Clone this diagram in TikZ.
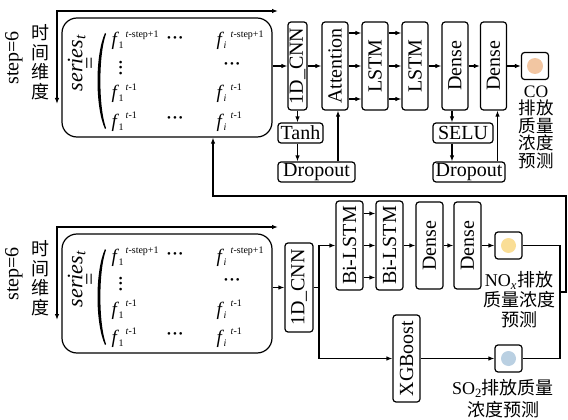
\documentclass[tikz,border=0pt]{standalone}
\usepackage{fontspec}
\setmainfont{Liberation Serif}
\newfontfamily\cjk{Noto Sans CJK SC}
\usepackage{graphicx}
\usetikzlibrary{arrows.meta, positioning}
\definecolor{coorange}{RGB}{242,198,162}
\definecolor{noxyellow}{RGB}{250,222,150}
\definecolor{sotwoblue}{RGB}{186,208,226}
\newcommand{\lbl}{\fontsize{20}{22}\selectfont}
\newcommand{\supfont}{\fontsize{10}{10}\selectfont}
\newcommand{\fel}[2]{\textit{f}\rlap{\kern-0.5pt\raisebox{-3pt}{\supfont #1}}\kern6.5pt\raisebox{8.5pt}{\supfont #2}}
\newcommand{\threedots}{•\kern2pt•\kern2pt•}

\begin{document}
\begin{tikzpicture}[x=1pt, y=-1pt, line width=1.2pt,
    layer/.style={draw, rounded corners=3pt, minimum width=26pt, minimum height=88pt, inner sep=0pt, font=\lbl},
    smallbox/.style={draw, rounded corners=3pt, minimum height=20pt, inner sep=0pt, font=\lbl},
    outbox/.style={draw, rounded corners=3pt, minimum width=27pt, minimum height=27pt, inner sep=0pt},
    serbox/.style={draw, rounded corners=15pt, minimum width=210pt, minimum height=119pt},
    mel/.style={anchor=base west, inner sep=0pt, font=\fontsize{19}{20}\selectfont},
    dotn/.style={inner sep=0pt, font=\fontsize{11}{11}\selectfont},
    captext/.style={align=center, inner sep=0pt, anchor=north},
    arr/.style={-{Latex[length=6pt,width=4.5pt]}},
    arrtwo/.style={{Latex[length=6pt,width=4.5pt]}-{Latex[length=6pt,width=4.5pt]}}]
    \useasboundingbox (0,0) rectangle (568,420);

    % input series, top and bottom
    \foreach \n/\y in {1/0, 2/216} {
        \node[serbox] (ser\n) at (167,77.5+\y) {};
        \coordinate (dn\n) at (57,104+\y);
        \coordinate (rg\n) at (278,11+\y);
        \draw[arrtwo] (dn\n) |- (rg\n);
        \node[rotate=90, font=\lbl] (stp\n) at (14,58+\y) {step=6};
        \node[align=center, font=\cjk\fontsize{18}{19.5}\selectfont] (tdim\n) at (40,62+\y) {时\\间\\维\\度};
        \node[rotate=90, align=center, font=\fontsize{22}{14}\selectfont] (st\n) at (82,63+\y) {\textit{series}\textsubscript{\textit{t}}\\=};
        \fill (105,33+\y) .. controls (95,55+\y) and (95,107+\y) .. (105,129+\y)
            -- (106,128+\y) .. controls (98.5,107+\y) and (98.5,55+\y) .. (106,34+\y) -- cycle;
        \node[mel] (ma\n) at (111,46+\y) {\fel{1}{\textit{t}-step+1}};
        \node[dotn] (mb\n) at (175,39+\y) {\threedots};
        \node[mel] (mc\n) at (216,46+\y) {\fel{\textit{i}}{\textit{t}-step+1}};
        \node[dotn, rotate=90] (md\n) at (122,68+\y) {\threedots};
        \node[dotn] (me\n) at (232,65+\y) {\threedots};
        \node[mel] (mf\n) at (111,99+\y) {\fel{1}{\textit{t}-1}};
        \node[mel] (mg\n) at (216,99+\y) {\fel{\textit{i}}{\textit{t}-1}};
        \node[mel] (mh\n) at (111,127+\y) {\fel{1}{\textit{t}-1}};
        \node[dotn] (mi\n) at (175,119+\y) {\threedots};
        \node[mel] (mj\n) at (216,127+\y) {\fel{\textit{i}}{\textit{t}-1}};
    }

    % CO branch
    \node[layer, minimum width=19pt] (cnn1) at (297.5,66) {\rotatebox{90}{1D\_CNN}};
    \node[layer] (att) at (335,66) {\rotatebox{90}{Attention}};
    \node[layer] (lstm1) at (375,66) {\rotatebox{90}{LSTM}};
    \node[layer] (lstm2) at (415,66) {\rotatebox{90}{LSTM}};
    \node[layer] (den1) at (455,66) {\rotatebox{90}{Dense}};
    \node[layer] (den2) at (493.5,66) {\rotatebox{90}{Dense}};
    \node[outbox] (co) at (535,66) {};
    \fill[coorange] (co) circle (8pt);
    \node[captext, font=\cjk\fontsize{17.5}{17.5}\selectfont] (cocap) at (536,85) {{\rmfamily CO}\\排放\\质量\\浓度\\预测};
    \node[smallbox, minimum width=45pt] (tanh) at (300.5,133) {Tanh};
    \node[smallbox, minimum width=77pt] (drop1) at (316.5,172) {Dropout};
    \node[smallbox, minimum width=60pt] (selu) at (463,133) {SELU};
    \node[smallbox, minimum width=72pt] (drop2) at (469,172) {Dropout};

    \draw[arr] (ser1.east |- cnn1.west) -- (cnn1.west);
    \draw[arr] (cnn1) -- (att);
    \foreach \dy in {-33,0,33} {
        \draw[arr] ([yshift=\dy pt]att.east) -- ([yshift=\dy pt]lstm1.west);
        \draw[arr] ([yshift=\dy pt]lstm1.east) -- ([yshift=\dy pt]lstm2.west);
    }
    \draw[arr] (lstm2) -- (den1);
    \draw[arr] (den1) -- (den2);
    \draw[arr] (den2) -- (co);
    \draw[arr] (cnn1.south) -- (cnn1.south |- tanh.north);
    \draw[arr] (tanh.south -| cnn1) -- (drop1.north -| cnn1);
    \draw[arr] ([xshift=3pt]drop1.north -| att) -- ([xshift=3pt]att.south);
    \draw[arr] ([xshift=-3pt]den1.south) -- ([xshift=-3pt]den1.south |- selu.north);
    \draw[arr] ([xshift=-3pt]selu.south -| den1) -- ([xshift=-3pt]drop2.north -| den1);
    \draw[arr] ([xshift=4pt]drop2.north -| den2) -- ([xshift=4pt]den2.south);

    % NOx and SO2 branch
    \node[layer, minimum width=28pt, minimum height=89pt] (cnn2) at (299,287.5) {\rotatebox{90}{1D\_CNN}};
    \node[layer, minimum width=27pt, minimum height=89pt] (bil1) at (349.5,245.5) {\rotatebox{90}{Bi-LSTM}};
    \node[layer, minimum width=27pt, minimum height=89pt] (bil2) at (389.5,245.5) {\rotatebox{90}{Bi-LSTM}};
    \node[layer, minimum width=27pt, minimum height=87pt] (den3) at (429.5,245.5) {\rotatebox{90}{Dense}};
    \node[layer, minimum width=27pt, minimum height=87pt] (den4) at (467.5,245.5) {\rotatebox{90}{Dense}};
    \node[outbox] (nox) at (508.5,245.5) {};
    \fill[noxyellow] (nox) circle (7.5pt);
    \node[layer, minimum width=27pt, minimum height=87pt] (xgb) at (406.5,358.5) {\rotatebox{90}{XGBoost}};
    \node[outbox] (so2) at (508.5,358.5) {};
    \fill[sotwoblue] (so2) circle (7.5pt);
    \node[captext, font=\fontsize{18}{20}\selectfont] (noxcap) at (519,271) {NO\textsubscript{\textit{x}}{\cjk 排放}\\{\cjk 质量浓度}\\{\cjk 预测}};
    \node[captext, font=\fontsize{18}{22}\selectfont] (so2cap) at (503,379) {SO\textsubscript{2}{\cjk 排放质量}\\{\cjk 浓度预测}};

    \coordinate (br) at (319,287.5);
    \draw[arr] (ser2.east |- cnn2.west) -- (cnn2.west);
    \draw (cnn2.east) -- (br);
    \draw[arr] (br) |- (bil1.west);
    \draw[arr] (br) |- (xgb.west);
    \foreach \dy in {-32,0,32}
        \draw[arr] ([yshift=\dy pt]bil1.east) -- ([yshift=\dy pt]bil2.west);
    \draw[arr] (bil2) -- (den3);
    \draw[arr] (den3) -- (den4);
    \draw[arr] (den4) -- (nox);
    \draw[arr] (xgb) -- (so2);

    % feedback to the top series
    \coordinate (mrg) at (560,292);
    \coordinate (fbr) at (566,196);
    \coordinate (fbl) at (213,196);
    \draw (nox.east) -| (mrg);
    \draw (so2.east) -| (mrg);
    \draw[arr] (mrg) -| (fbr) -- (fbl) -- (fbl |- ser1.south);
\end{tikzpicture}
\end{document}
